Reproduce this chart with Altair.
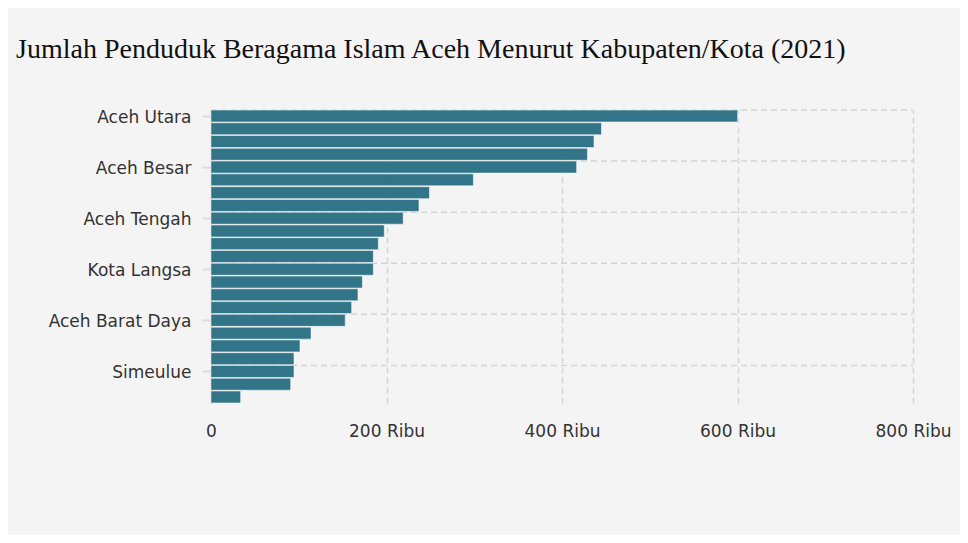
import altair as alt
import pandas as pd

names = [
    "Aceh Utara", "Pidie", "Bireuen", "Aceh Timur", "Aceh Besar",
    "Aceh Tamiang", "Kota Banda Aceh", "Aceh Selatan", "Aceh Tengah",
    "Aceh Barat", "Kota Lhokseumawe", "Nagan Raya", "Kota Langsa",
    "Aceh Tenggara", "Bener Meriah", "Pidie Jaya", "Aceh Barat Daya",
    "Aceh Singkil", "Gayo Lues", "Aceh Jaya", "Simeulue",
    "Kota Subulussalam", "Kota Sabang",
]
values = [
    600200, 445000, 436500, 429000, 416700,
    299000, 249000, 237000, 219000,
    197500, 190700, 185000, 185000,
    172500, 167500, 160300, 153000,
    114000, 101400, 94600, 94600,
    90800, 33800,
]
shown_labels = ["Aceh Utara", "Aceh Besar", "Aceh Tengah", "Kota Langsa",
                "Aceh Barat Daya", "Simeulue"]
x_ticks = [0, 200000, 400000, 600000, 800000]

df = pd.DataFrame({"name": names, "value": values})
grid_df = pd.DataFrame({"name": shown_labels})

FONT = "DejaVu Sans"

y_scale = alt.Scale(domain=names, paddingInner=0.06, paddingOuter=0)
x_scale = alt.Scale(domain=[0, 800000], nice=False)

bars = alt.Chart(df).mark_bar(
    color="#226b7f", opacity=0.92, stroke="#ffffff", strokeOpacity=0.55,
    strokeWidth=1
).encode(
    x=alt.X("value:Q", scale=x_scale, title=None,
            axis=alt.Axis(values=x_ticks, grid=True, gridDash=[6, 4],
                          gridColor="#d4d4d4", gridWidth=1.5,
                          domain=False, ticks=False, labelPadding=20,
                          labelFlush=False, labelBound=False, labelOverlap=False,
                          labelFont=FONT, labelFontSize=17, labelColor="#333333",
                          labelExpr="datum.value == 0 ? '0' : format(datum.value / 1000, 'd') + ' Ribu'")),
    y=alt.Y("name:N", sort=names, scale=y_scale, title=None,
            axis=alt.Axis(values=shown_labels, grid=False, domain=True,
                          domainColor="#c4c4c4", domainWidth=1.5,
                          tickColor="#dddddd", tickSize=9, tickWidth=2,
                          labelPadding=11, labelOffset=1.5, labelFont=FONT,
                          labelFontSize=17, labelColor="#333333")),
)

hgrid = alt.Chart(grid_df).mark_rule(
    color="#d4d4d4", strokeDash=[6, 4], strokeWidth=1.5
).encode(
    y=alt.Y("name:N", sort=names, scale=y_scale, bandPosition=0),
    x=alt.value(0),
    x2=alt.value(702),
)

chart = alt.layer(hgrid, bars).properties(
    width=702,
    height=293,
    autosize=alt.AutoSizeParams(type="none"),
    padding={"left": 203, "top": 102, "right": 47, "bottom": 132},
    background="#f4f4f4",
    title=alt.TitleParams(
        "Jumlah Penduduk Beragama Islam Aceh Menurut Kabupaten/Kota (2021)",
        anchor="start", frame="group", dx=-195, dy=32, offset=54,
        baseline="alphabetic", font="Liberation Serif", fontSize=28,
        fontWeight="normal", color="#111111",
    ),
).configure_view(stroke=None)

chart.save("out.html", embed_options={"renderer": "svg", "actions": False})
